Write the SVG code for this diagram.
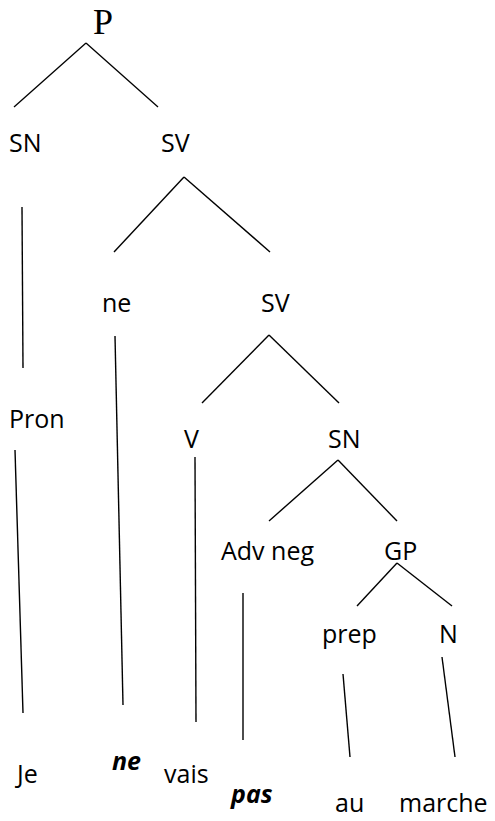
<svg xmlns="http://www.w3.org/2000/svg" width="495" height="821" viewBox="0 0 495 821">
  <style>
    .lbl { font-family: "Open Sans", "Noto Sans", sans-serif; font-size: 25px; fill: #000; }
    .word { font-family: "Open Sans", "Noto Sans", sans-serif; font-size: 25px; fill: #000; }
    .neg { font-family: "Open Sans", "Noto Sans", sans-serif; font-size: 25px; font-weight: bold; font-style: italic; fill: #000; }
    .root { font-family: "Liberation Serif", "Times New Roman", serif; font-size: 36px; fill: #000; }
    .edge { stroke: #000; stroke-width: 1.4; fill: none; stroke-linecap: butt; }
  </style>
  <rect width="495" height="821" fill="#fff"/>

  <!-- tree edges -->
  <g id="connectors">
    <!-- P -->
    <line class="edge" x1="86" y1="43" x2="14" y2="107"/>
    <line class="edge" x1="86" y1="43" x2="158" y2="107"/>
    <!-- SV (upper) -->
    <line class="edge" x1="184" y1="177" x2="114" y2="252"/>
    <line class="edge" x1="184" y1="177" x2="270" y2="252"/>
    <!-- SV (lower) -->
    <line class="edge" x1="269" y1="335" x2="202" y2="403"/>
    <line class="edge" x1="269" y1="335" x2="339" y2="403"/>
    <!-- SN (object) -->
    <line class="edge" x1="338" y1="460" x2="269" y2="521"/>
    <line class="edge" x1="338" y1="460" x2="397" y2="521"/>
    <!-- GP -->
    <line class="edge" x1="397" y1="563" x2="357" y2="606"/>
    <line class="edge" x1="397" y1="563" x2="452" y2="606"/>
    <!-- unary projections -->
    <line class="edge" x1="22" y1="207" x2="23" y2="368"/>
    <line class="edge" x1="15" y1="450" x2="23" y2="713"/>
    <line class="edge" x1="115" y1="336" x2="123" y2="705"/>
    <line class="edge" x1="195" y1="457" x2="196" y2="722"/>
    <line class="edge" x1="243" y1="593" x2="243" y2="740"/>
    <line class="edge" x1="343" y1="674" x2="350" y2="757"/>
    <line class="edge" x1="442" y1="657" x2="455" y2="757"/>
  </g>

  <!-- category nodes -->
  <g id="node-P"><text class="root" x="93" y="34">P</text></g>
  <g id="node-SN-subj"><text class="lbl" x="9" y="152">SN</text></g>
  <g id="node-SV-1"><text class="lbl" x="161" y="152">SV</text></g>
  <g id="node-ne-cat"><text class="lbl" x="102" y="312">ne</text></g>
  <g id="node-SV-2"><text class="lbl" x="261" y="312">SV</text></g>
  <g id="node-Pron"><text class="lbl" x="9" y="428">Pron</text></g>
  <g id="node-V"><text class="lbl" x="184" y="448">V</text></g>
  <g id="node-SN-obj"><text class="lbl" x="328" y="448">SN</text></g>
  <g id="node-AdvNeg"><text class="lbl" x="221" y="560">Adv neg</text></g>
  <g id="node-GP"><text class="lbl" x="384" y="560">GP</text></g>
  <g id="node-prep"><text class="lbl" x="322" y="643">prep</text></g>
  <g id="node-N"><text class="lbl" x="439" y="643">N</text></g>

  <!-- terminal words -->
  <g id="word-Je"><text class="word" x="17" y="783">Je</text></g>
  <g id="word-ne"><text class="neg" x="112" y="770">ne</text></g>
  <g id="word-vais"><text class="word" x="164" y="783">vais</text></g>
  <g id="word-pas"><text class="neg" x="231" y="803">pas</text></g>
  <g id="word-au"><text class="word" x="335" y="812">au</text></g>
  <g id="word-marche"><text class="word" x="399" y="812">marche</text></g>
</svg>
